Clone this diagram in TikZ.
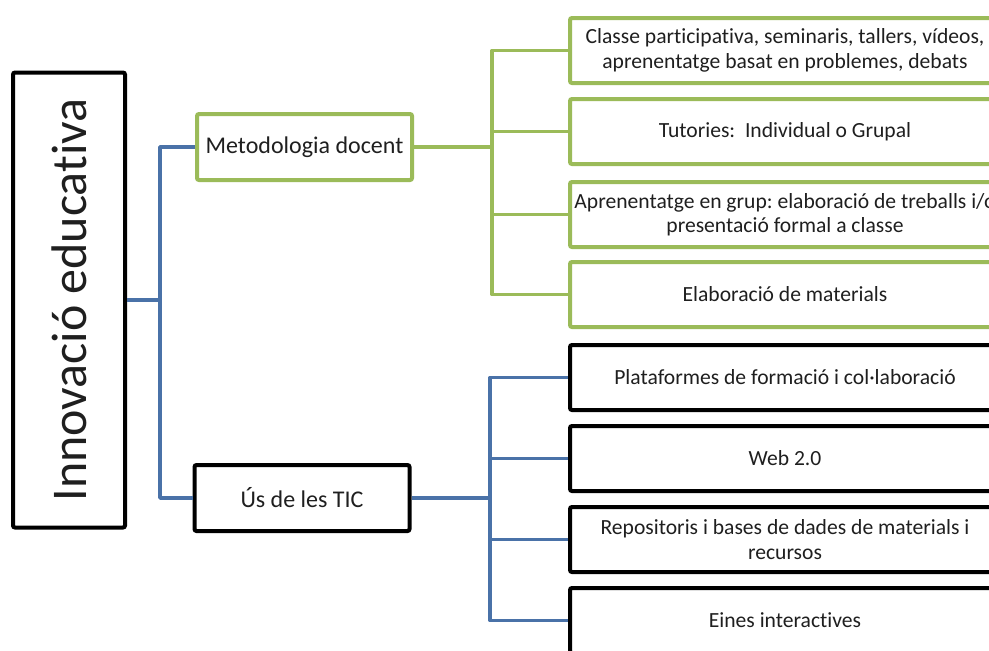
\documentclass[tikz,border=0pt]{standalone}
\usepackage{fontspec}
\setmainfont{Carlito}[Ligatures=NoCommon]
\definecolor{tblue}{HTML}{4A72A8}
\definecolor{tgreen}{HTML}{9BBB59}
\frenchspacing
\begin{document}
\begin{tikzpicture}[x=0.5pt, y=-0.5pt,
  box/.style={draw, line width=2pt, rounded corners=1pt, fill=white, align=center, inner sep=0pt, text=black!88},
  rootbox/.style={box, draw=black, minimum width=56pt, minimum height=227.5pt, font=\fontsize{25}{30}\selectfont},
  midbox/.style={box, minimum width=107.5pt, minimum height=33pt, font=\fontsize{12}{14}\selectfont},
  leafbox/.style={box, minimum width=215pt, minimum height=32.5pt, font=\fontsize{10.8}{12.2}\selectfont},
  link/.style={line width=1.8pt, line join=round}]
  \useasboundingbox (0,0) rectangle (989,650);
  \clip (0,0) rectangle (989,650);
  % junctions
  \coordinate (jr) at (160,300);
  \coordinate (jg) at (492,147);
  \coordinate (jb) at (490,498);
  % boxes
  \node[rootbox] (root) at (69,300) {\rotatebox{90}{Innovació educativa}};
  \node[midbox, draw=tgreen] (metod) at (304.5,147) {Metodologia docent};
  \node[midbox, draw=black] (tic) at (302,498) {Ús de les TIC};
  \node[leafbox, draw=tgreen] (g1) at (785,50.5) {Classe participativa, seminaris, tallers, vídeos,\\aprenentatge basat en problemes, debats};
  \node[leafbox, draw=tgreen] (g2) at (785,131.5) {Tutories: \ Individual o Grupal};
  \node[leafbox, draw=tgreen] (g3) at (785,214.5) {Aprenentatge en grup: elaboració de treballs i/o\\presentació formal a classe};
  \node[leafbox, draw=tgreen] (g4) at (785,294.5) {Elaboració de materials};
  \node[leafbox, draw=black] (b1) at (785,377.5) {Plataformes de formació i col·laboració};
  \node[leafbox, draw=black] (b2) at (785,458.5) {Web 2.0};
  \node[leafbox, draw=black] (b3) at (785,539.5) {Repositoris i bases de dades de materials i\\recursos};
  \node[leafbox, draw=black] (b4) at (785,620.5) {Eines interactives};
  % connectors
  \draw[link, tblue] (root.east) -- (jr) |- (metod.west);
  \draw[link, tblue] (jr) |- (tic.west);
  \draw[link, tgreen] (metod.east) -- (jg);
  \foreach \n in {g1,g2,g3,g4} {
    \draw[link, tgreen] (jg) |- (\n.west);
  }
  \draw[link, tblue] (tic.east) -- (jb);
  \foreach \n in {b1,b2,b3,b4} {
    \draw[link, tblue] (jb) |- (\n.west);
  }
\end{tikzpicture}
\end{document}
